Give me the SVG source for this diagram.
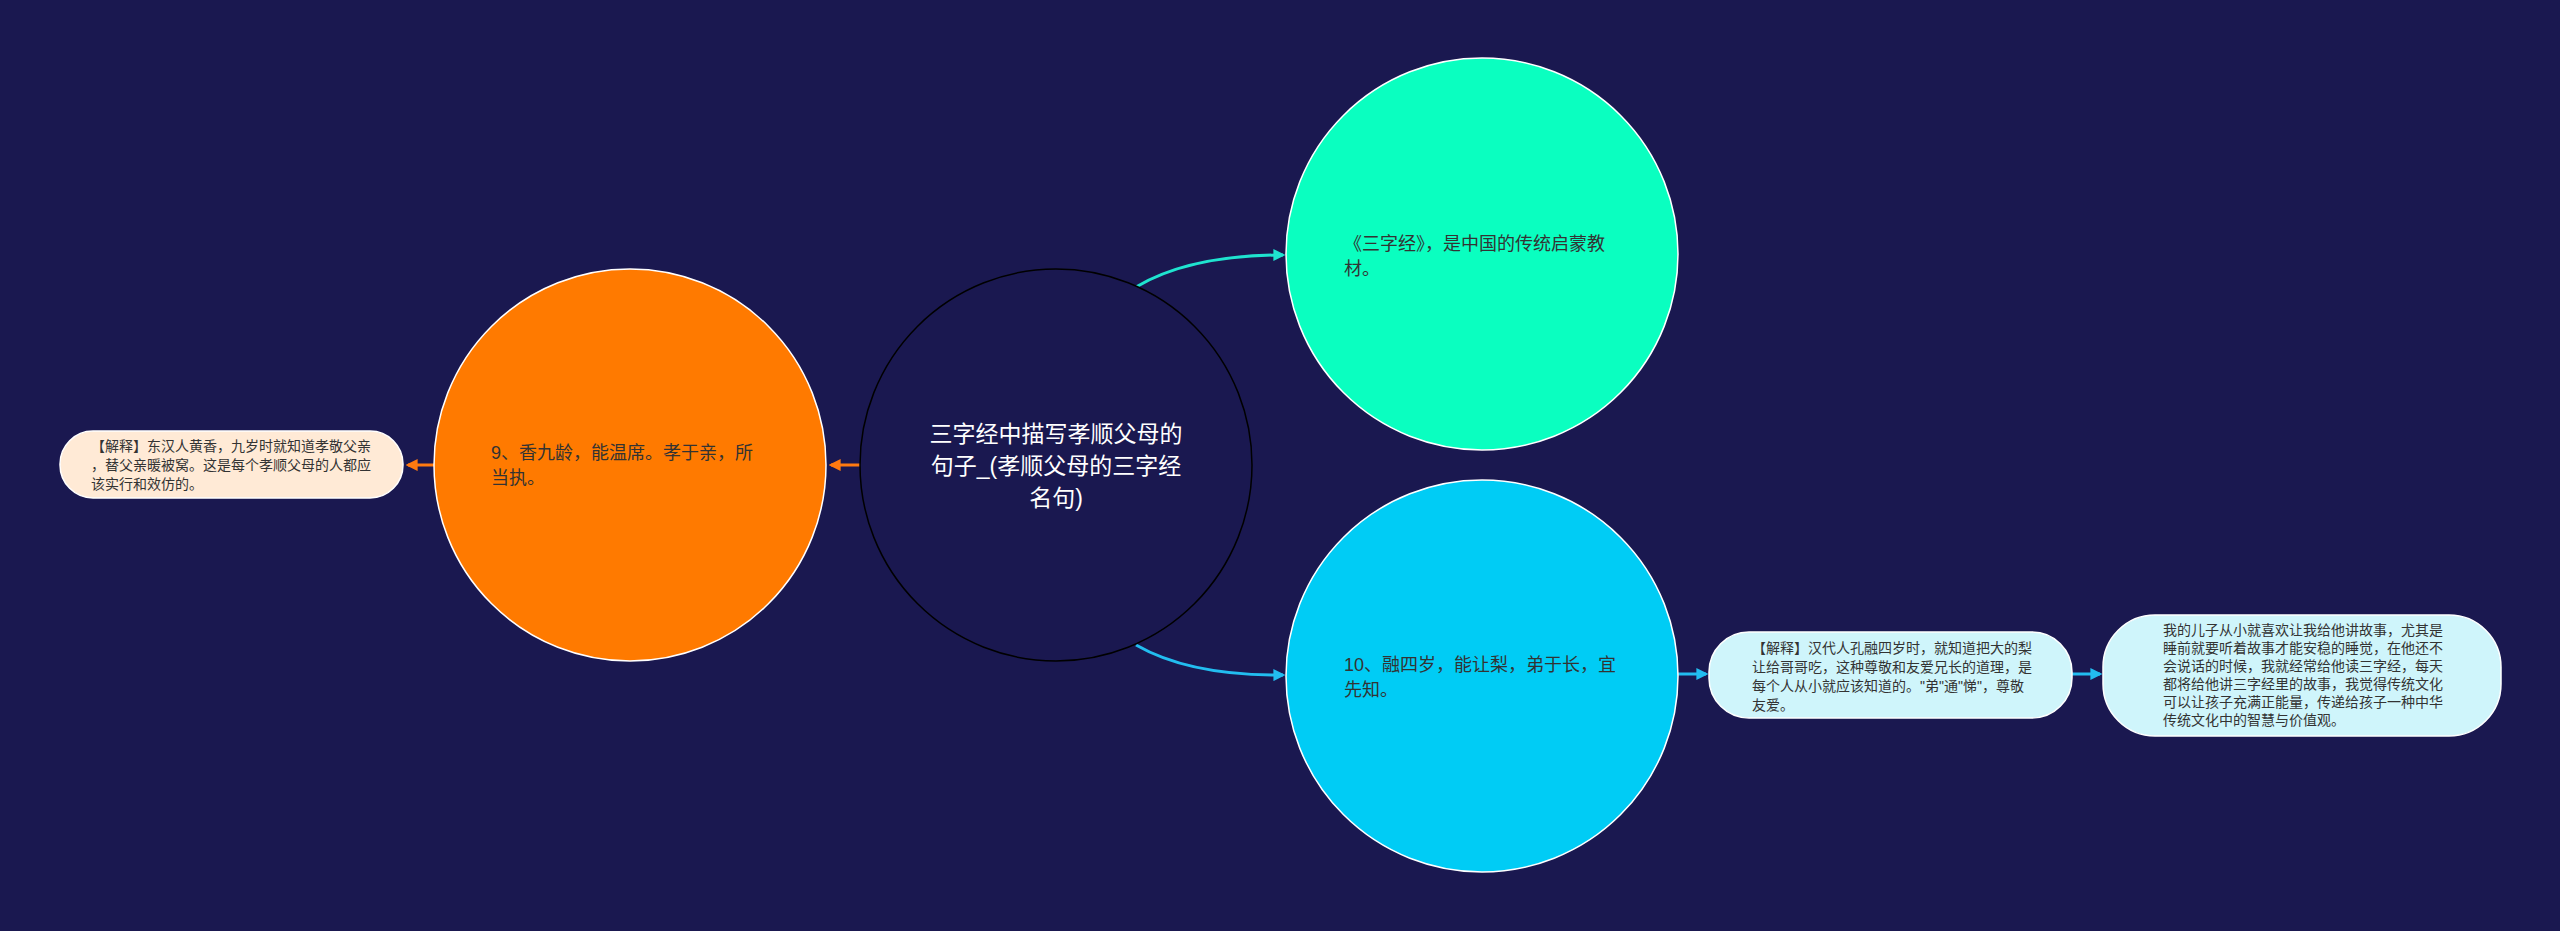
<svg xmlns="http://www.w3.org/2000/svg" width="2560" height="931" viewBox="0 0 2560 931">
<style>
text{font-family:"Liberation Sans","Noto Sans CJK SC",sans-serif;}
.n{font-size:18px;fill:#333;}
.s{font-size:14px;fill:#333;}
.c{stroke-width:3;fill:none;}
</style>
<defs>
<marker id="aT" viewBox="0 0 10 10" refX="8" refY="5" markerWidth="4" markerHeight="4" orient="auto"><path d="M0,0L10,5L0,10z" fill="#1fe3cf"/></marker>
<marker id="aB" viewBox="0 0 10 10" refX="8" refY="5" markerWidth="4" markerHeight="4" orient="auto"><path d="M0,0L10,5L0,10z" fill="#22bdf0"/></marker>
<marker id="aO" viewBox="0 0 10 10" refX="8" refY="5" markerWidth="4" markerHeight="4" orient="auto"><path d="M0,0L10,5L0,10z" fill="#ff7a10"/></marker>
</defs>
<rect width="2560" height="931" fill="#1a1850"/>
<g id="connectors">
<path class="c" d="M1136,287 Q1190,255 1283,255" stroke="#1fe3cf" marker-end="url(#aT)"/>
<path class="c" d="M1136,645 Q1190,676 1283,675" stroke="#22bdf0" marker-end="url(#aB)"/>
<path class="c" d="M860,465 L831,465" stroke="#ff7a10" marker-end="url(#aO)"/>
<path class="c" d="M434,465 L408,465" stroke="#ff7a10" marker-end="url(#aO)"/>
<path class="c" d="M1678,674 L1706,674" stroke="#22bdf0" marker-end="url(#aB)"/>
<path class="c" d="M2072,674 L2100,674" stroke="#22bdf0" marker-end="url(#aB)"/>
</g>
<g id="center">
<circle cx="1056" cy="465" r="196" fill="#1a1850" stroke="#000" stroke-width="1.5"/>
<text x="1056" y="442" font-size="23" fill="#fff" text-anchor="middle">三字经中描写孝顺父母的</text>
<text x="1056" y="474" font-size="23" fill="#fff" text-anchor="middle">句子_(孝顺父母的三字经</text>
<text x="1056" y="506" font-size="23" fill="#fff" text-anchor="middle">名句)</text>
</g>
<g id="n9">
<circle cx="630" cy="465" r="196" fill="#ff7a00" stroke="#fff" stroke-width="1.5"/>
<text class="n" x="491" y="459">9、香九龄，能温席。孝于亲，所</text>
<text class="n" x="491" y="484">当执。</text>
</g>
<g id="n9note">
<rect x="60" y="431" width="343" height="67" rx="33" fill="#ffead6" stroke="#fff" stroke-width="1.5"/>
<text class="s" x="91" y="451">【解释】东汉人黄香，九岁时就知道孝敬父亲</text>
<text class="s" x="91" y="470">，替父亲暖被窝。这是每个孝顺父母的人都应</text>
<text class="s" x="91" y="489">该实行和效仿的。</text>
</g>
<g id="sanzijing">
<circle cx="1482" cy="254" r="196" fill="#0affc0" stroke="#fff" stroke-width="1.5"/>
<text class="n" x="1344" y="250">《三字经》，是中国的传统启蒙教</text>
<text class="n" x="1344" y="275">材。</text>
</g>
<g id="n10">
<circle cx="1482" cy="676" r="196" fill="#00ccf5" stroke="#fff" stroke-width="1.5"/>
<text class="n" x="1344" y="671">10、融四岁，能让梨，弟于长，宜</text>
<text class="n" x="1344" y="696">先知。</text>
</g>
<g id="n10note">
<rect x="1709" y="632" width="363" height="86" rx="40" fill="#cff5fb" stroke="#fff" stroke-width="1.5"/>
<text class="s" x="1752" y="653">【解释】汉代人孔融四岁时，就知道把大的梨</text>
<text class="s" x="1752" y="672">让给哥哥吃，这种尊敬和友爱兄长的道理，是</text>
<text class="s" x="1752" y="691">每个人从小就应该知道的。"弟"通"悌"，尊敬</text>
<text class="s" x="1752" y="710">友爱。</text>
</g>
<g id="story">
<rect x="2103" y="615" width="398" height="121" rx="52" fill="#cff5fb" stroke="#fff" stroke-width="1.5"/>
<text class="s" x="2163" y="635">我的儿子从小就喜欢让我给他讲故事，尤其是</text>
<text class="s" x="2163" y="653">睡前就要听着故事才能安稳的睡觉，在他还不</text>
<text class="s" x="2163" y="671">会说话的时候，我就经常给他读三字经，每天</text>
<text class="s" x="2163" y="689">都将给他讲三字经里的故事，我觉得传统文化</text>
<text class="s" x="2163" y="707">可以让孩子充满正能量，传递给孩子一种中华</text>
<text class="s" x="2163" y="725">传统文化中的智慧与价值观。</text>
</g>
</svg>
